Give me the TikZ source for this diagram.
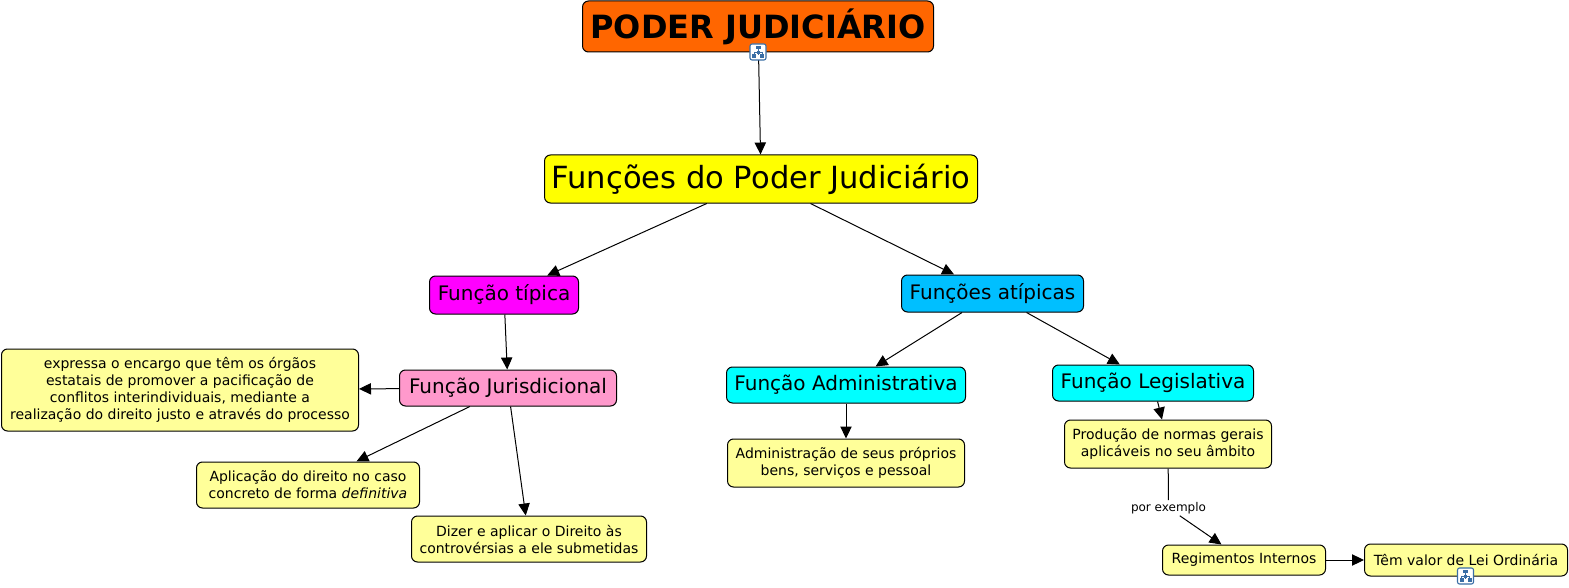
\documentclass[tikz,border=0pt]{standalone}
\usepackage{fontspec}
\setmainfont{DejaVu Sans}
\usetikzlibrary{arrows.meta}
\definecolor{corlaranja}{RGB}{255,102,0}
\definecolor{coramarelo}{RGB}{255,255,0}
\definecolor{cormagenta}{RGB}{255,0,255}
\definecolor{corpink}{RGB}{255,153,204}
\definecolor{corceu}{RGB}{0,191,255}
\definecolor{corciano}{RGB}{0,255,255}
\definecolor{cornota}{RGB}{255,255,153}
\definecolor{coricone}{RGB}{58,110,165}
\tikzset{
  caixa/.style={draw=black,line width=0.75pt,rounded corners=4.5pt,inner sep=0pt,align=center,text=black},
  tam/.style 2 args={minimum width=#1*0.75pt,minimum height=#2*0.75pt},
  nota/.style={caixa,fill=cornota,font=\fontsize{10.5}{12.75}\selectfont},
  media/.style={caixa,font=\fontsize{15}{18}\selectfont},
  liga/.style={draw=black,line width=0.75pt,-{Triangle[length=9pt,width=8.5pt]}},
  linha/.style={draw=black,line width=0.75pt},
  mapicon/.pic={
    \draw[coricone,fill=white,line width=0.8pt,rounded corners=1.5pt] (-8,-8) rectangle (8,8);
    \fill[coricone] (-2.5,-6) rectangle (2.5,-3);
    \draw[coricone,line width=0.5pt] (0,-3) -- (0,3) (-4,0) -- (4,0) (-4,0) -- (-4,3) (4,0) -- (4,3);
    \fill[coricone] (-6,2) rectangle (-2,6);
    \fill[coricone] (-1.5,-1) rectangle (1.5,2);
    \fill[coricone] (2,2) rectangle (6,6);
  }
}
\begin{document}
\begin{tikzpicture}[x=0.75pt,y=-0.75pt]
  \useasboundingbox (-0.5,0) rectangle (1568.5,588);
  % conceitos principais
  \node[caixa,fill=corlaranja,tam={351}{51},font=\fontsize{24}{28}\selectfont\bfseries] (poder) at (757.5,26.5) {PODER JUDICIÁRIO};
  \node[caixa,fill=coramarelo,tam={433}{48},font=\fontsize{22.9}{28}\selectfont] (funcoes) at (760.5,179) {Funções do Poder Judiciário};
  \node[media,fill=cormagenta,tam={149}{38}] (tipica) at (503.5,295) {Função típica};
  \node[media,fill=corceu,tam={182}{37}] (atipicas) at (992,293.5) {Funções atípicas};
  \node[media,fill=corpink,tam={217}{36}] (jurisd) at (507.5,388) {Função Jurisdicional};
  \node[media,fill=corciano,tam={239}{36}] (admin) at (845.5,385) {Função Administrativa};
  \node[media,fill=corciano,tam={201}{36}] (legis) at (1152.5,383) {Função Legislativa};
  % notas
  \node[nota,tam={357}{82}] (encargo) at (179.5,390) {expressa o encargo que têm os órgãos\\estatais de promover a pacificação de\\conflitos interindividuais, mediante a\\realização do direito justo e através do processo};
  \node[nota,tam={223}{46}] (aplicacao) at (307.5,485) {Aplicação do direito no caso\\concreto de forma \textit{definitiva}};
  \node[nota,tam={235}{46}] (dizer) at (528.5,539) {Dizer e aplicar o Direito às\\controvérsias a ele submetidas};
  \node[nota,tam={237}{48}] (bens) at (845.5,463) {Administração de seus próprios\\bens, serviços e pessoal};
  \node[nota,tam={207}{48}] (normas) at (1167.5,444) {Produção de normas gerais\\aplicáveis no seu âmbito};
  \node[nota,tam={163}{30}] (regimentos) at (1243.5,560) {Regimentos Internos};
  \node[nota,tam={203}{32}] (lei) at (1465.5,560) {Têm valor de Lei Ordinária};
  \node[inner sep=0pt,minimum width=78*0.75pt,minimum height=15*0.75pt,font=\fontsize{9}{11}\selectfont] (exemplo) at (1168,508) {por exemplo};
  % ligacoes
  \draw[liga] (poder) -- (funcoes);
  \draw[liga] (funcoes) -- (tipica);
  \draw[liga] (funcoes) -- (atipicas);
  \draw[liga] (tipica) -- (jurisd);
  \draw[liga] (atipicas) -- (admin);
  \draw[liga] (atipicas) -- (legis);
  \draw[liga] (jurisd) -- (encargo);
  \draw[liga] (jurisd) -- (aplicacao);
  \draw[liga] (jurisd) -- (dizer);
  \draw[liga] (admin) -- (bens);
  \draw[liga] (legis) -- (normas);
  \draw[linha] (normas) -- (exemplo);
  \draw[liga] (exemplo) -- (regimentos);
  \draw[liga] (regimentos) -- (lei);
  % icones
  \pic at (757.5,52) {mapicon};
  \pic at (1465,576) {mapicon};
\end{tikzpicture}
\end{document}
